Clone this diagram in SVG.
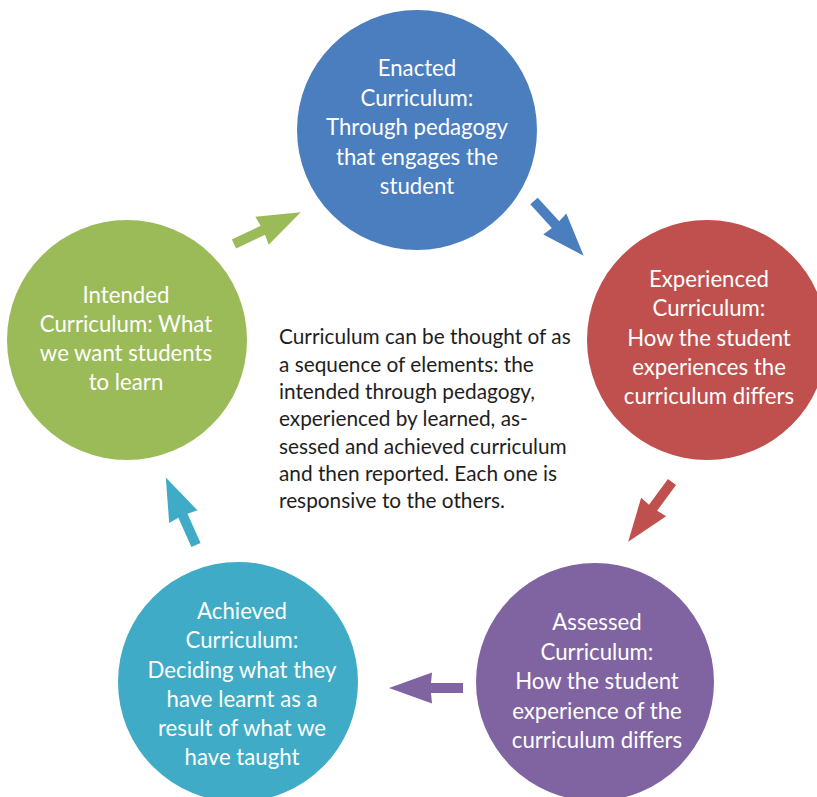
<svg xmlns="http://www.w3.org/2000/svg" width="817" height="797" viewBox="0 0 817 797">
  <style>
    .node text { fill: #ffffff; font-family: Lato, "Open Sans", "Liberation Sans", sans-serif; font-size: 22.2px; text-anchor: middle; }
    .note { fill: #1e1e1e; font-family: Lato, "Open Sans", "Liberation Sans", sans-serif; font-size: 20.8px; }
  </style>
  <defs>
    <!-- block arrow pointing along +x, tail at origin -->
    <polygon id="arrow" points="0,-5 32,-5 31,-15.5 74,0 31,15.5 32,5 0,5"/>
  </defs>
  <rect width="817" height="797" fill="#ffffff"/>

  <g id="connectors">
    <use href="#arrow" fill="#9BBB59" transform="translate(234,244) rotate(-25.5)"/>
    <use href="#arrow" fill="#4A7EBF" transform="translate(534,201) rotate(47.8)"/>
    <use href="#arrow" fill="#C0504D" transform="translate(672,482) rotate(126.3)"/>
    <use href="#arrow" fill="#8064A2" transform="translate(463,688) rotate(180)"/>
    <use href="#arrow" fill="#3FABC6" transform="translate(196,545) rotate(-114.1)"/>
  </g>

  <g id="enacted" class="node">
    <circle cx="417" cy="130" r="120" fill="#4A7EBF"/>
    <text x="417" y="76">Enacted</text>
    <text x="417" y="105.5">Curriculum:</text>
    <text x="417" y="135">Through pedagogy</text>
    <text x="417" y="164.5">that engages the</text>
    <text x="417" y="194">student</text>
  </g>

  <g id="experienced" class="node">
    <circle cx="707" cy="340" r="120" fill="#C0504D"/>
    <text x="709" y="287">Experienced</text>
    <text x="709" y="316">Curriculum:</text>
    <text x="709" y="345.5">How the student</text>
    <text x="709" y="375">experiences the</text>
    <text x="709" y="404">curriculum differs</text>
  </g>

  <g id="assessed" class="node">
    <circle cx="595" cy="682" r="119" fill="#8064A2"/>
    <text x="597" y="630">Assessed</text>
    <text x="597" y="659.5">Curriculum:</text>
    <text x="597" y="689">How the student</text>
    <text x="597" y="718.5">experience of the</text>
    <text x="597" y="748">curriculum differs</text>
  </g>

  <g id="achieved" class="node">
    <circle cx="238" cy="682" r="120" fill="#3FABC6"/>
    <text x="242" y="619">Achieved</text>
    <text x="242" y="648">Curriculum:</text>
    <text x="242" y="677.5">Deciding what they</text>
    <text x="242" y="707">have learnt as a</text>
    <text x="242" y="736">result of what we</text>
    <text x="242" y="765">have taught</text>
  </g>

  <g id="intended" class="node">
    <circle cx="127" cy="340" r="120" fill="#9BBB59"/>
    <text x="126" y="303">Intended</text>
    <text x="126" y="332">Curriculum: What</text>
    <text x="126" y="361">we want students</text>
    <text x="126" y="390">to learn</text>
  </g>

  <g id="summary">
    <text class="note" x="279" y="344">Curriculum can be thought of as</text>
    <text class="note" x="279" y="371.5">a sequence of elements: the</text>
    <text class="note" x="279" y="399">intended through pedagogy,</text>
    <text class="note" x="279" y="426">experienced by learned, as-</text>
    <text class="note" x="279" y="453.5">sessed and achieved curriculum</text>
    <text class="note" x="279" y="481">and then reported. Each one is</text>
    <text class="note" x="279" y="508">responsive to the others.</text>
  </g>
</svg>
